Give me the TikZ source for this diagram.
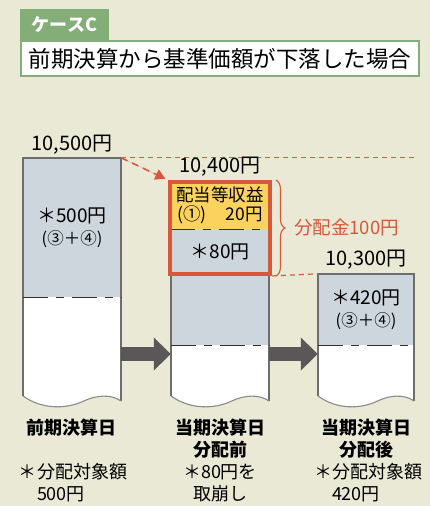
\documentclass[tikz,border=0pt]{standalone}
\usepackage{fontspec}
\setmainfont{Noto Sans CJK JP}
\usetikzlibrary{positioning, arrows.meta, decorations.pathreplacing, fit}

\definecolor{bgbeige}{HTML}{E9E9D5}
\definecolor{tagGreen}{HTML}{83AE78}
\definecolor{barBlue}{HTML}{CCD6DC}
\definecolor{incomeYellow}{HTML}{FCD25E}
\definecolor{payRed}{HTML}{D9573A}
\definecolor{arrowGray}{HTML}{595757}
\definecolor{frameGray}{HTML}{6D6D6D}

\tikzstyle{tag} = [rectangle, fill=tagGreen, text=white, font=\fontsize{18}{20}\selectfont\bfseries, minimum width=89pt, minimum height=31pt, inner sep=0pt]
\tikzstyle{headline} = [rectangle, fill=white, draw=tagGreen, line width=2pt, minimum width=398pt, minimum height=35pt, font=\fontsize{22.5}{24}\selectfont, inner sep=0pt]
\tikzstyle{valuebox} = [rectangle, fill=barBlue, inner sep=0pt, text centered, align=center, font=\fontsize{19}{22}\selectfont]
\tikzstyle{income} = [rectangle, fill=incomeYellow, inner sep=0pt, align=center, font=\fontsize{17.5}{19}\selectfont, minimum width=100pt, minimum height=47pt]
\tikzstyle{price} = [inner sep=0pt, font=\fontsize{20}{22}\selectfont]
\tikzstyle{daylabel} = [inner sep=0pt, align=center, font=\fontsize{18}{22}\selectfont\bfseries]
\tikzstyle{memo} = [inner sep=0pt, font=\fontsize{18}{22}\selectfont]
\tikzstyle{divider} = [draw=black!80, line width=1.3pt, dash pattern=on 25pt off 8pt on 8pt off 8pt]
\tikzstyle{fatarrow} = [draw=arrowGray, line width=14pt, -{Triangle[length=17pt, width=32pt]}]
\tikzstyle{redline} = [draw=payRed, line width=1.2pt, dash pattern=on 5pt off 4pt]
\tikzstyle{droparrow} = [draw=payRed, fill=payRed, line width=1.6pt, dash pattern=on 7pt off 5pt, -{Triangle[length=10pt, width=11pt]}, shorten >=3pt]

\begin{document}
\begin{tikzpicture}[x=1pt, y=-1pt]
	\useasboundingbox (0,0) rectangle (430,506);
	\fill[bgbeige] (0,0) rectangle (430,506);
	
	\node (case) [tag] at (64.5,24.5) {ケースC};
	\node (title) [headline] at (220,58.5) {前期決算から基準価額が下落した場合};
	
	% gray parts of the bars
	\node (top1) [valuebox, minimum width=98pt, minimum height=139pt] at (72,227.5) {＊500円\\{\fontsize{16.5}{22}\selectfont(③＋④)}};
	\node (mid2) [valuebox, minimum width=98pt, minimum height=71pt] at (220,309.5) {};
	\node (top3) [valuebox, minimum width=96pt, minimum height=71pt] at (366,309.5) {＊420円\\{\fontsize{16.5}{22}\selectfont(③＋④)}};
	\node (rev) [income] at (220,205.5) {配当等収益\\(①)\hspace{1.1em}20円};
	\node (cut) [valuebox, minimum width=100pt, minimum height=45pt] at (220,251.5) {＊80円};
	
	% white parts with the torn bottom
	\foreach \l/\t/\d/\w in {23/158/297/98, 171/274/345/98, 318/274/345/96} {
		\fill[white] (\l,\d) -- (\l,396) .. controls ({\l+0.2*\w},410) and ({\l+0.45*\w},409) .. ({\l+0.62*\w},401) .. controls ({\l+0.75*\w},395) and ({\l+0.9*\w},394) .. ({\l+\w},401) -- ({\l+\w},\d) -- cycle;
		\draw[frameGray, line width=1.5pt] (\l,396) -- (\l,\t) -- ({\l+\w},\t) -- ({\l+\w},401);
		\draw[frameGray!80, line width=1.1pt] (\l,396) .. controls ({\l+0.2*\w},410) and ({\l+0.45*\w},409) .. ({\l+0.62*\w},401) .. controls ({\l+0.75*\w},395) and ({\l+0.9*\w},394) .. ({\l+\w},401);
	}
	
	\draw[divider] (top1.south west) -- (top1.south east);
	\draw[divider] (mid2.south west) -- (mid2.south east);
	\draw[divider] (top3.south west) -- (top3.south east);
	\draw[divider] (rev.south west) -- (rev.south east);
	
	\node (payout) [fit=(rev)(cut), draw=payRed, line width=3.5pt, inner sep=0pt] {};
	
	\coordinate (lvl) at (0,354);
	\draw[fatarrow] (top1.east |- lvl) -- (mid2.west |- lvl);
	\draw[fatarrow] (mid2.east |- lvl) -- (top3.west |- lvl);
	
	\draw[redline] (top1.north east) -- (top1.north east -| top3.east);
	\draw[redline] (payout.south east) -- (top3.north west);
	\draw[droparrow] (top1.north east) -- (payout.north west);
	
	\node (p1) [price, above=3.5pt of top1] {10,500円};
	\node (p2) [price, above=3.5pt of payout] {10,400円};
	\node (p3) [price, above=4.5pt of top3] {10,300円};
	
	\draw[payRed, line width=1.1pt, decorate, decoration={brace, amplitude=9pt}] ([xshift=4pt]payout.north east) -- ([xshift=4pt]payout.south east);
	\node (payamt) [anchor=west, text=payRed, font=\fontsize{18.5}{20}\selectfont, inner sep=0pt] at ([xshift=22pt]payout.east) {分配金100円};
	
	\node (day1) [daylabel] at (72,428) {前期決算日};
	\node (day2) [daylabel] at (220,439) {当期決算日\\分配前};
	\node (day3) [daylabel] at (366,439) {当期決算日\\分配後};
	
	\node (memo1) [memo, align=left] at (73,483) {＊分配対象額\\\phantom{＊}500円};
	\node (memo2) [memo, align=center] at (220,483) {＊80円を\\取崩し};
	\node (memo3) [memo, align=left] at (368,483) {＊分配対象額\\\phantom{＊}420円};
\end{tikzpicture}
\end{document}
